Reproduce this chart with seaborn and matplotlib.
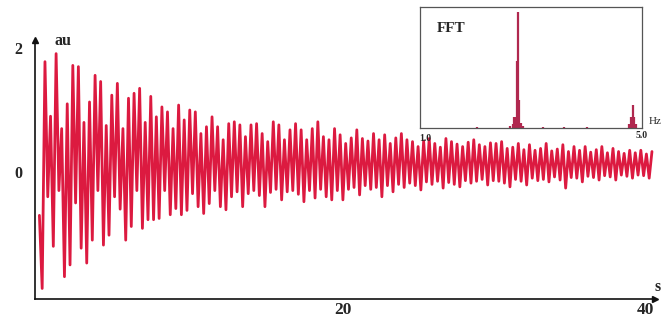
import matplotlib
matplotlib.use('Agg')
import matplotlib.pyplot as plt
import numpy as np
import pandas as pd
import seaborn as sns

sns.set_style('white')
plt.rcParams['font.family'] = ['Liberation Serif', 'DejaVu Serif']

red = '#dc1a40'
fft_red = '#b0284f'

# signal: one peak and one trough per oscillation (au)
start_value = -0.7
t_end = 40.4
peaks = [1.78, 0.90, 1.91, 0.70, 1.10, 1.72, 1.70, 0.80, 1.13, 1.56,
         1.46, 0.75, 1.24, 1.43, 0.70, 1.19, 1.27, 1.35, 0.80, 1.22,
         0.89, 1.05, 0.97, 0.70, 1.08, 0.84, 1.00,
         0.97, 0.62, 0.73, 0.89, 0.73, 0.52, 0.78, 0.81, 0.76, 0.57,
         0.76, 0.78, 0.62, 0.49, 0.81, 0.76, 0.52, 0.68, 0.78, 0.68,
         0.52, 0.70, 0.81, 0.57, 0.52, 0.70,
         0.60, 0.46, 0.55, 0.68, 0.54, 0.50, 0.62, 0.52, 0.60, 0.46,
         0.55, 0.62, 0.52, 0.49, 0.41, 0.50, 0.54, 0.46, 0.40, 0.54,
         0.49, 0.45, 0.41, 0.48, 0.52, 0.44, 0.41, 0.47, 0.46,
         0.49, 0.38, 0.40, 0.46, 0.36, 0.44, 0.35, 0.38, 0.46, 0.34,
         0.37, 0.44, 0.33, 0.41, 0.35, 0.41, 0.32, 0.36, 0.41, 0.31,
         0.38, 0.33, 0.30, 0.35, 0.31, 0.35, 0.29, 0.33]
troughs = [-1.88, -0.40, -1.20, -0.30, -1.69, -1.50, -0.50, -1.23, -1.47, -1.10,
           -0.30, -1.18, -1.02, -0.40, -0.60, -1.10, -0.88, -0.30, -0.91, -0.77,
           -0.77, -0.75, -0.30, -0.69, -0.59, -0.69, -0.62,
           -0.35, -0.56, -0.67, -0.51, -0.30, -0.56, -0.61, -0.40, -0.32, -0.56,
           -0.35, -0.30, -0.38, -0.56, -0.33, -0.28, -0.45, -0.32, -0.30, -0.36,
           -0.48, -0.30, -0.42, -0.28, -0.40, -0.45,
           -0.30, -0.45, -0.28, -0.25, -0.37, -0.22, -0.28, -0.25, -0.40, -0.22,
           -0.32, -0.20, -0.25, -0.18, -0.22, -0.29, -0.16, -0.20, -0.15, -0.26,
           -0.17, -0.20, -0.24, -0.14, -0.18, -0.15, -0.12, -0.21, -0.14,
           -0.15, -0.18, -0.24, -0.12, -0.15, -0.21, -0.10, -0.14, -0.12, -0.16,
           -0.08, -0.13, -0.26, -0.09, -0.10, -0.16, -0.07, -0.09, -0.13, -0.06,
           -0.08, -0.13, -0.05, -0.07, -0.10, -0.05, -0.06, -0.10]

# FFT inset (Hz, relative amplitude)
fft_freq = [2.02, 2.62, 2.68, 2.70, 2.73, 2.75, 2.77, 2.79, 2.82, 2.86,
            3.22, 3.60, 4.00, 4.76, 4.80, 4.83, 4.86, 4.89]
fft_amp = [0.01, 0.02, 0.03, 0.09, 0.09, 0.55, 0.96, 0.23, 0.04, 0.02,
           0.01, 0.01, 0.01, 0.03, 0.09, 0.19, 0.09, 0.03]

signal = [start_value]
for lo, hi in zip(troughs, peaks):
    signal += [lo, hi]
df = pd.DataFrame({'t': np.linspace(0, t_end, len(signal)), 'v': signal})

fig = plt.figure(figsize=(6.7, 3.2), dpi=100)
ax = fig.add_axes([35/670, 21/320, 620/670, 259/320])
sns.lineplot(data=df, x='t', y='v', ax=ax, color=red, lw=2.0)
ax.set_xlim(-0.29, 40.6)
ax.set_ylim(-2.05, 2.13)
ax.set_xlabel('')
ax.set_ylabel('')

for side in ['top', 'right']:
    ax.spines[side].set_visible(False)
for side in ['left', 'bottom']:
    ax.spines[side].set_color('#111111')
    ax.spines[side].set_linewidth(1.2)
ax.plot([0], [1], marker='^', color='#111111', ms=5, transform=ax.transAxes, clip_on=False)
ax.plot([1], [0], marker='>', color='#111111', ms=5, transform=ax.transAxes, clip_on=False)

ax.set_yticks([0, 2])
ax.set_yticklabels(['0', '2'], fontsize=11.5, fontweight='bold')
ax.tick_params(axis='y', direction='out', length=5, width=1.2, pad=4, color='#111111')
ax.set_xticks([20, 40])
ax.set_xticklabels(['20', '40'], fontsize=12.5, fontweight='bold')
ax.tick_params(axis='x', direction='in', length=5, width=1.2, pad=2, color='#111111')
ax.set_xticks([10, 30], minor=True)
ax.tick_params(axis='x', which='minor', direction='in', length=3, color='#cccccc')

ax.text(1.56, 2.11, 'au', ha='center', va='center', fontsize=11.5, fontweight='bold', clip_on=False)
ax.text(40.8, -1.85, 's', ha='center', va='center', fontsize=11.5, fontweight='bold', clip_on=False)

# inset
ax_in = fig.add_axes([420/670, 192/320, 222/670, 121/320])
ax_in.vlines(fft_freq, 0, fft_amp, color=fft_red, lw=1.6)
ax_in.set_xlim(1.0, 5.0)
ax_in.set_ylim(0, 1.0)
ax_in.set_xticks([1.8, 2.6, 3.4, 4.2])
ax_in.set_yticks([])
ax_in.tick_params(axis='x', direction='in', length=5, width=1.0, color='#444444', labelbottom=False)
for side in ax_in.spines.values():
    side.set_color('#555555')
    side.set_linewidth(0.9)
ax_in.text(0.077, 0.826, 'FFT', transform=ax_in.transAxes, fontsize=11, fontweight='bold', va='center')
ax_in.text(0.022, -0.083, '1.0', transform=ax_in.transAxes, fontsize=7, fontweight='bold', ha='center', va='center')
ax_in.text(1.0, -0.066, '5.0', transform=ax_in.transAxes, fontsize=7, fontweight='bold', ha='center', va='center')
ax_in.text(1.058, 0.05, 'Hz', transform=ax_in.transAxes, fontsize=8, ha='center', va='center')

fig.savefig('out.png', dpi=100)
